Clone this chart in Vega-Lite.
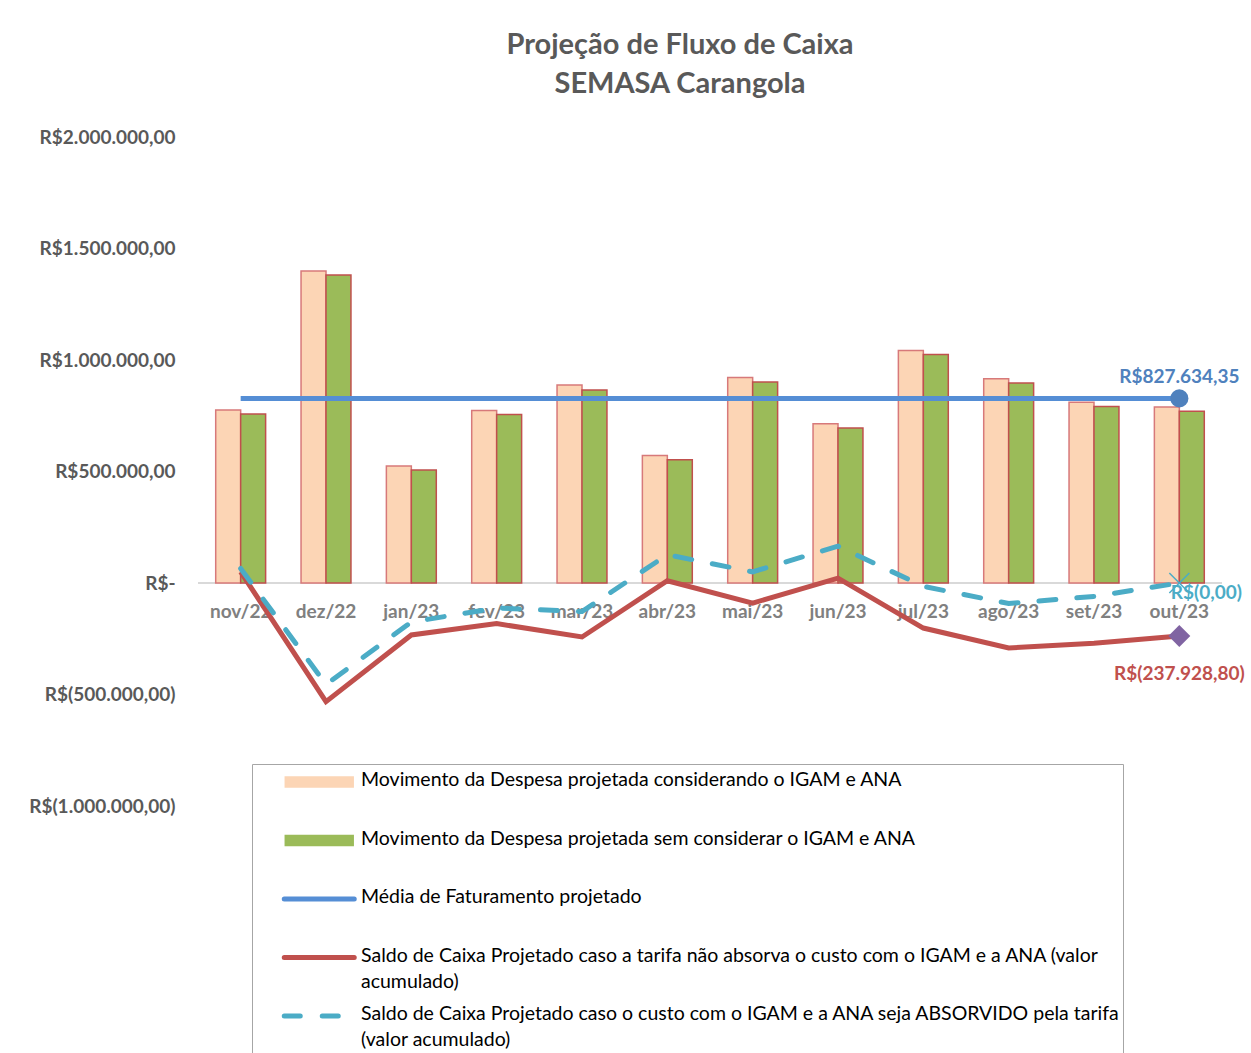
{
  "$schema": "https://vega.github.io/schema/vega-lite/v6.json",
  "autosize": "none",
  "width": 1024,
  "height": 669,
  "padding": {"left": 198, "top": 137, "right": 29, "bottom": 247},
  "background": "white",
  "config": {
    "locale": {"number": {"decimal": ",", "thousands": ".", "grouping": [3], "currency": ["R$", ""]}},
    "view": {"stroke": null},
    "font": "Lato"
  },
  "title": {
    "text": ["Projeção de Fluxo de Caixa", "SEMASA Carangola"],
    "fontSize": 29, "fontWeight": "bold", "color": "#595959", "font": "Lato",
    "lineHeight": 39, "offset": 29, "anchor": "middle", "dx": -30
  },
  "data": {"values": [
    {"mes": "nov/22", "Movimento da Despesa projetada considerando o IGAM e ANA": 776000, "Movimento da Despesa projetada sem considerar o IGAM e ANA": 758000, "Média de Faturamento projetado": 827634.35, "Saldo de Caixa Projetado caso a tarifa não absorva o custo com o IGAM e a ANA (valor acumulado)": 50000, "Saldo de Caixa Projetado caso o custo com o IGAM e a ANA seja ABSORVIDO pela tarifa (valor acumulado)": 65000},
    {"mes": "dez/22", "Movimento da Despesa projetada considerando o IGAM e ANA": 1399000, "Movimento da Despesa projetada sem considerar o IGAM e ANA": 1381000, "Média de Faturamento projetado": 827634.35, "Saldo de Caixa Projetado caso a tarifa não absorva o custo com o IGAM e a ANA (valor acumulado)": -532000, "Saldo de Caixa Projetado caso o custo com o IGAM e a ANA seja ABSORVIDO pela tarifa (valor acumulado)": -455000},
    {"mes": "jan/23", "Movimento da Despesa projetada considerando o IGAM e ANA": 525000, "Movimento da Despesa projetada sem considerar o IGAM e ANA": 507000, "Média de Faturamento projetado": 827634.35, "Saldo de Caixa Projetado caso a tarifa não absorva o custo com o IGAM e a ANA (valor acumulado)": -233000, "Saldo de Caixa Projetado caso o custo com o IGAM e a ANA seja ABSORVIDO pela tarifa (valor acumulado)": -175000},
    {"mes": "fev/23", "Movimento da Despesa projetada considerando o IGAM e ANA": 774000, "Movimento da Despesa projetada sem considerar o IGAM e ANA": 756000, "Média de Faturamento projetado": 827634.35, "Saldo de Caixa Projetado caso a tarifa não absorva o custo com o IGAM e a ANA (valor acumulado)": -182000, "Saldo de Caixa Projetado caso o custo com o IGAM e a ANA seja ABSORVIDO pela tarifa (valor acumulado)": -112000},
    {"mes": "mar/23", "Movimento da Despesa projetada considerando o IGAM e ANA": 888000, "Movimento da Despesa projetada sem considerar o IGAM e ANA": 866000, "Média de Faturamento projetado": 827634.35, "Saldo de Caixa Projetado caso a tarifa não absorva o custo com o IGAM e a ANA (valor acumulado)": -242000, "Saldo de Caixa Projetado caso o custo com o IGAM e a ANA seja ABSORVIDO pela tarifa (valor acumulado)": -128000},
    {"mes": "abr/23", "Movimento da Despesa projetada considerando o IGAM e ANA": 572000, "Movimento da Despesa projetada sem considerar o IGAM e ANA": 553000, "Média de Faturamento projetado": 827634.35, "Saldo de Caixa Projetado caso a tarifa não absorva o custo com o IGAM e a ANA (valor acumulado)": 10000, "Saldo de Caixa Projetado caso o custo com o IGAM e a ANA seja ABSORVIDO pela tarifa (valor acumulado)": 127000},
    {"mes": "mai/23", "Movimento da Despesa projetada considerando o IGAM e ANA": 922000, "Movimento da Despesa projetada sem considerar o IGAM e ANA": 901000, "Média de Faturamento projetado": 827634.35, "Saldo de Caixa Projetado caso a tarifa não absorva o custo com o IGAM e a ANA (valor acumulado)": -90000, "Saldo de Caixa Projetado caso o custo com o IGAM e a ANA seja ABSORVIDO pela tarifa (valor acumulado)": 50000},
    {"mes": "jun/23", "Movimento da Despesa projetada considerando o IGAM e ANA": 714000, "Movimento da Despesa projetada sem considerar o IGAM e ANA": 695000, "Média de Faturamento projetado": 827634.35, "Saldo de Caixa Projetado caso a tarifa não absorva o custo com o IGAM e a ANA (valor acumulado)": 22000, "Saldo de Caixa Projetado caso o custo com o IGAM e a ANA seja ABSORVIDO pela tarifa (valor acumulado)": 165000},
    {"mes": "jul/23", "Movimento da Despesa projetada considerando o IGAM e ANA": 1043000, "Movimento da Despesa projetada sem considerar o IGAM e ANA": 1025000, "Média de Faturamento projetado": 827634.35, "Saldo de Caixa Projetado caso a tarifa não absorva o custo com o IGAM e a ANA (valor acumulado)": -202000, "Saldo de Caixa Projetado caso o custo com o IGAM e a ANA seja ABSORVIDO pela tarifa (valor acumulado)": -15000},
    {"mes": "ago/23", "Movimento da Despesa projetada considerando o IGAM e ANA": 916000, "Movimento da Despesa projetada sem considerar o IGAM e ANA": 897000, "Média de Faturamento projetado": 827634.35, "Saldo de Caixa Projetado caso a tarifa não absorva o custo com o IGAM e a ANA (valor acumulado)": -291000, "Saldo de Caixa Projetado caso o custo com o IGAM e a ANA seja ABSORVIDO pela tarifa (valor acumulado)": -92000},
    {"mes": "set/23", "Movimento da Despesa projetada considerando o IGAM e ANA": 810000, "Movimento da Despesa projetada sem considerar o IGAM e ANA": 791000, "Média de Faturamento projetado": 827634.35, "Saldo de Caixa Projetado caso a tarifa não absorva o custo com o IGAM e a ANA (valor acumulado)": -270000, "Saldo de Caixa Projetado caso o custo com o IGAM e a ANA seja ABSORVIDO pela tarifa (valor acumulado)": -60000},
    {"mes": "out/23", "Movimento da Despesa projetada considerando o IGAM e ANA": 789000, "Movimento da Despesa projetada sem considerar o IGAM e ANA": 770000, "Média de Faturamento projetado": 827634.35, "Saldo de Caixa Projetado caso a tarifa não absorva o custo com o IGAM e a ANA (valor acumulado)": -237928.80, "Saldo de Caixa Projetado caso o custo com o IGAM e a ANA seja ABSORVIDO pela tarifa (valor acumulado)": 0}
  ]},
  "transform": [
    {"fold": [
      "Movimento da Despesa projetada considerando o IGAM e ANA",
      "Movimento da Despesa projetada sem considerar o IGAM e ANA",
      "Média de Faturamento projetado",
      "Saldo de Caixa Projetado caso a tarifa não absorva o custo com o IGAM e a ANA (valor acumulado)",
      "Saldo de Caixa Projetado caso o custo com o IGAM e a ANA seja ABSORVIDO pela tarifa (valor acumulado)"
    ], "as": ["serie", "valor"]}
  ],
  "encoding": {
    "color": {"field": "serie", "type": "nominal",
      "scale": {
        "domain": [
          "Movimento da Despesa projetada considerando o IGAM e ANA",
          "Movimento da Despesa projetada sem considerar o IGAM e ANA",
          "Média de Faturamento projetado",
          "Saldo de Caixa Projetado caso a tarifa não absorva o custo com o IGAM e a ANA (valor acumulado)",
          "Saldo de Caixa Projetado caso o custo com o IGAM e a ANA seja ABSORVIDO pela tarifa (valor acumulado)"
        ],
        "range": ["#FCD5B5", "#9BBB59", "#558ED5", "#C0504D", "#4BACC6"]
      },
      "legend": {
        "orient": "none", "legendX": 54, "legendY": 627, "direction": "vertical", "title": null,
        "padding": 2, "strokeColor": "#A6A6A6", "fillColor": "white",
        "symbolSize": 4900, "symbolStrokeWidth": 5, "clipHeight": 54, "rowPadding": 4.5,
        "symbolOffset": 55.5, "labelOffset": 32,
        "labelFont": "Lato", "labelFontSize": 19.5, "labelColor": "#000000", "labelLimit": 2000, "labelBaseline": "top",
        "labelExpr": "datum.index == 3 ? ['Saldo de Caixa Projetado caso a tarifa não absorva o custo com o IGAM e a ANA (valor', 'acumulado)'] : (datum.index == 4 ? ['Saldo de Caixa Projetado caso o custo com o IGAM e a ANA seja ABSORVIDO pela tarifa', '(valor acumulado)'] : datum.label)",
        "encode": {
          "symbols": {
            "update": {
              "shape": {"signal": "datum.index <= 1 ? 'M-0.97,-0.14H0.97V0.14H-0.97Z' : 'stroke'"},
              "fill": {"signal": "datum.index == 0 ? '#FCD5B5' : (datum.index == 1 ? '#9BBB59' : 'transparent')"},
              "stroke": {"signal": "datum.index == 0 ? '#D7797A' : (datum.index == 1 ? '#C0504D' : (datum.index == 2 ? '#558ED5' : (datum.index == 3 ? '#C0504D' : '#4BACC6')))"},
              "strokeWidth": {"signal": "datum.index <= 1 ? 1.5 : 5"},
              "strokeDash": {"signal": "datum.index == 4 ? [16, 22] : [1, 0]"},
              "strokeCap": {"value": "round"},
              "opacity": {"value": 1},
              "y": {"value": 16}
            }
          },
          "labels": {
            "update": {
              "y": {"value": 5},
              "lineHeight": {"value": 26}
            }
          }
        }
      }
    }
  },
  "layer": [
    {
      "mark": {"type": "rule", "strokeWidth": 1.5},
      "encoding": {
        "y": {"datum": 0, "type": "quantitative", "scale": {"domain": [-1000000, 2000000], "nice": false, "zero": false}},
        "color": {"value": "#D9D9D9"}
      }
    },
    {
      "transform": [{"filter": {"field": "serie", "equal": "Movimento da Despesa projetada considerando o IGAM e ANA"}}],
      "mark": {"type": "bar", "stroke": "#D7797A", "strokeWidth": 1.5},
      "encoding": {
        "x": {"field": "mes", "type": "nominal", "sort": null,
          "scale": {"paddingInner": 0.415, "paddingOuter": 0.2075},
          "axis": {"title": null, "domain": false, "ticks": false, "offset": -223, "labelAngle": 0,
            "labelFontSize": 19, "labelFontWeight": "bold", "labelColor": "#808080", "labelPadding": 19, "labelFont": "Lato"}},
        "xOffset": {"field": "serie", "type": "nominal", "scale": {"domain": ["Movimento da Despesa projetada considerando o IGAM e ANA", "Movimento da Despesa projetada sem considerar o IGAM e ANA"]}},
        "y": {"field": "valor", "type": "quantitative",
          "scale": {"domain": [-1000000, 2000000], "nice": false, "zero": false},
          "axis": {"title": null, "values": [-1000000, -500000, 0, 500000, 1000000, 1500000, 2000000],
            "labelExpr": "datum.value == 0 ? 'R$-' : (datum.value < 0 ? 'R$(' + format(-datum.value, ',.2f') + ')' : 'R$' + format(datum.value, ',.2f'))",
            "grid": false, "domain": false, "ticks": false, "labelFontSize": 19, "labelFontWeight": "bold",
            "labelColor": "#595959", "labelPadding": 23, "labelFont": "Lato"}}
      }
    },
    {
      "transform": [{"filter": {"field": "serie", "equal": "Movimento da Despesa projetada sem considerar o IGAM e ANA"}}],
      "mark": {"type": "bar", "stroke": "#C0504D", "strokeWidth": 1.5},
      "encoding": {
        "x": {"field": "mes", "type": "nominal", "sort": null},
        "xOffset": {"field": "serie", "type": "nominal"},
        "y": {"field": "valor", "type": "quantitative"}
      }
    },
    {
      "transform": [{"filter": {"field": "serie", "oneOf": ["Média de Faturamento projetado", "Saldo de Caixa Projetado caso a tarifa não absorva o custo com o IGAM e a ANA (valor acumulado)"]}}],
      "mark": {"type": "line", "strokeWidth": 5},
      "encoding": {
        "x": {"field": "mes", "type": "nominal", "sort": null},
        "y": {"field": "valor", "type": "quantitative"}
      }
    },
    {
      "transform": [{"filter": {"field": "serie", "equal": "Saldo de Caixa Projetado caso o custo com o IGAM e a ANA seja ABSORVIDO pela tarifa (valor acumulado)"}}],
      "mark": {"type": "line", "strokeWidth": 5, "strokeDash": [17, 21], "strokeCap": "round"},
      "encoding": {
        "x": {"field": "mes", "type": "nominal", "sort": null},
        "y": {"field": "valor", "type": "quantitative"}
      }
    },
    {
      "transform": [{"filter": {"and": [{"field": "mes", "equal": "out/23"}, {"field": "serie", "equal": "Média de Faturamento projetado"}]}}],
      "mark": {"type": "point", "shape": "circle", "filled": true, "size": 330, "opacity": 1},
      "encoding": {
        "x": {"field": "mes", "type": "nominal", "sort": null},
        "y": {"field": "valor", "type": "quantitative"},
        "color": {"value": "#4F81BD"}
      }
    },
    {
      "transform": [{"filter": {"and": [{"field": "mes", "equal": "out/23"}, {"field": "serie", "equal": "Saldo de Caixa Projetado caso a tarifa não absorva o custo com o IGAM e a ANA (valor acumulado)"}]}}],
      "mark": {"type": "point", "shape": "diamond", "filled": true, "size": 480, "opacity": 1},
      "encoding": {
        "x": {"field": "mes", "type": "nominal", "sort": null},
        "y": {"field": "valor", "type": "quantitative"},
        "color": {"value": "#8064A2"}
      }
    },
    {
      "transform": [{"filter": {"and": [{"field": "mes", "equal": "out/23"}, {"field": "serie", "equal": "Saldo de Caixa Projetado caso o custo com o IGAM e a ANA seja ABSORVIDO pela tarifa (valor acumulado)"}]}}],
      "mark": {"type": "point", "shape": "M-1,-1L1,1M1,-1L-1,1", "filled": false, "size": 400, "strokeWidth": 1.5, "opacity": 1},
      "encoding": {
        "x": {"field": "mes", "type": "nominal", "sort": null},
        "y": {"field": "valor", "type": "quantitative"},
        "color": {"value": "#4BACC6"}
      }
    },
    {
      "transform": [{"filter": {"and": [{"field": "mes", "equal": "out/23"}, {"field": "serie", "equal": "Média de Faturamento projetado"}]}}],
      "mark": {"type": "text", "text": "R$827.634,35", "dy": -21, "align": "center", "fontSize": 19, "fontWeight": "bold", "font": "Lato"},
      "encoding": {
        "x": {"field": "mes", "type": "nominal", "sort": null},
        "y": {"field": "valor", "type": "quantitative"},
        "color": {"value": "#4F81BD"}
      }
    },
    {
      "transform": [{"filter": {"and": [{"field": "mes", "equal": "out/23"}, {"field": "serie", "equal": "Saldo de Caixa Projetado caso o custo com o IGAM e a ANA seja ABSORVIDO pela tarifa (valor acumulado)"}]}}],
      "mark": {"type": "text", "text": "R$(0,00)", "dx": 27, "dy": 10, "align": "center", "fontSize": 19, "fontWeight": "bold", "font": "Lato"},
      "encoding": {
        "x": {"field": "mes", "type": "nominal", "sort": null},
        "y": {"field": "valor", "type": "quantitative"},
        "color": {"value": "#4BACC6"}
      }
    },
    {
      "transform": [{"filter": {"and": [{"field": "mes", "equal": "out/23"}, {"field": "serie", "equal": "Saldo de Caixa Projetado caso a tarifa não absorva o custo com o IGAM e a ANA (valor acumulado)"}]}}],
      "mark": {"type": "text", "text": "R$(237.928,80)", "dy": 38, "align": "center", "fontSize": 19, "fontWeight": "bold", "font": "Lato"},
      "encoding": {
        "x": {"field": "mes", "type": "nominal", "sort": null},
        "y": {"field": "valor", "type": "quantitative"},
        "color": {"value": "#C0504D"}
      }
    }
  ]
}
